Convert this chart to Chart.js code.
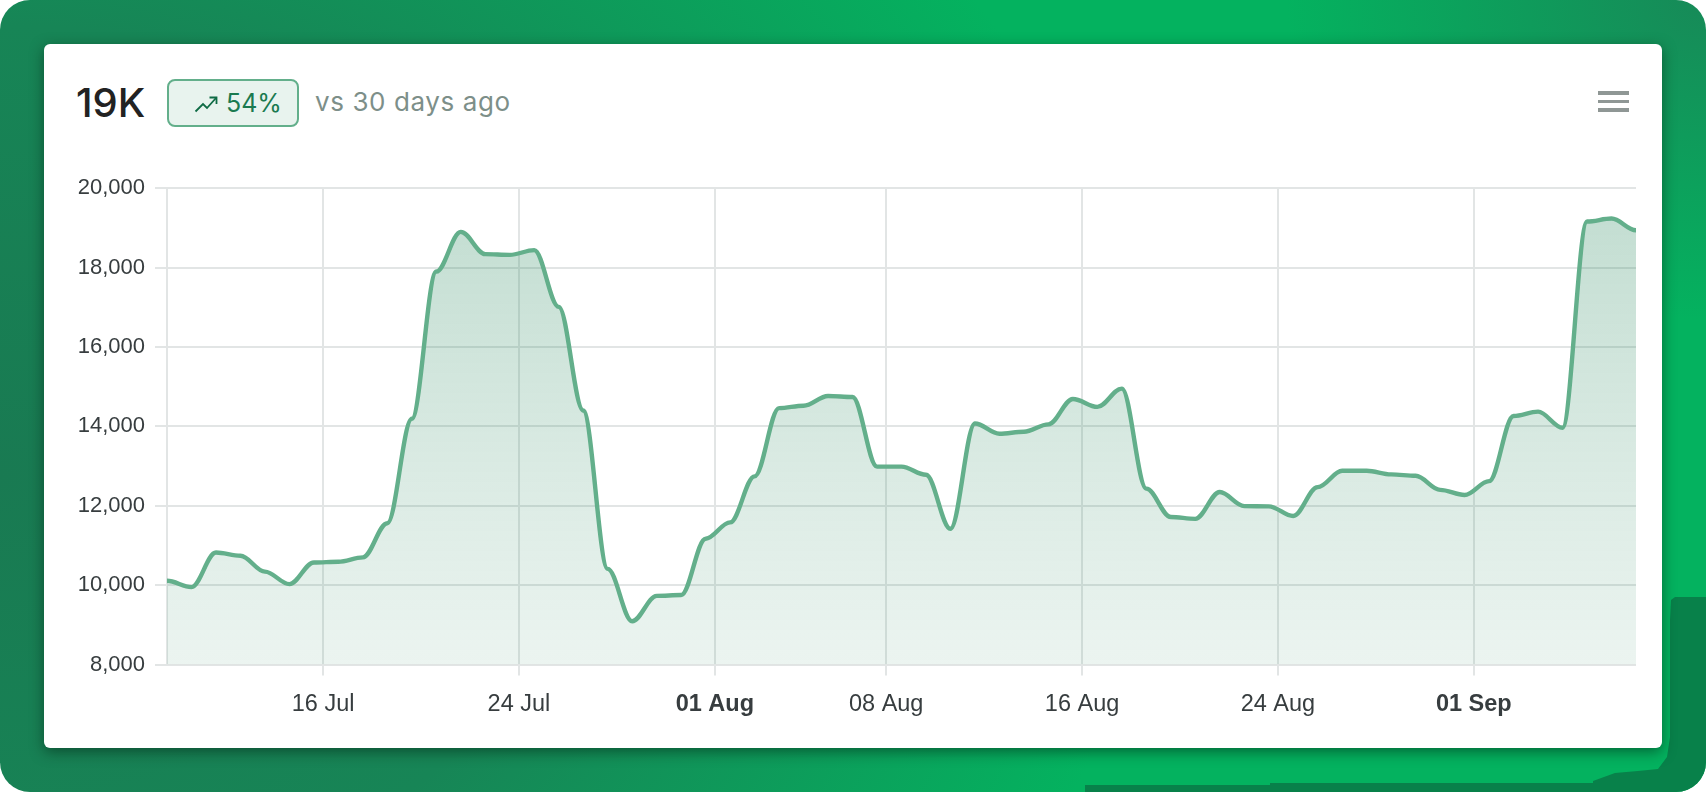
<!DOCTYPE html>
<html>
<head>
<meta charset="utf-8">
<script src="https://cdn.jsdelivr.net/npm/chart.js@4/dist/chart.umd.js"></script>
<style>
  html, body { margin: 0; width: 1706px; height: 792px; overflow: hidden; background: #fff; }
  .frame {
    position: absolute; left: 0; top: 0; width: 1706px; height: 792px;
    border-radius: 30px; overflow: hidden;
    background:
      radial-gradient(ellipse 1150px 900px at 0 60%, #197a52 0%, #178556 50%, rgba(23,133,86,0) 100%),
      radial-gradient(ellipse 420px 320px at 100% 0, #178a58 0%, rgba(23,138,88,0) 100%),
      #04b25f;
  }
  .patch {
    position: absolute; left: 0; top: 0; width: 1706px; height: 792px; background: #08814a;
    clip-path: polygon(1675px 597px, 1706px 597px, 1706px 792px, 1085px 792px, 1085px 785px,
      1270px 785px, 1270px 783px, 1593px 783px, 1593px 781px, 1615px 773px, 1638px 771px,
      1658px 769px, 1667px 757px, 1670px 737px, 1670px 620px, 1671px 600px);
  }
  .card {
    position: absolute; left: 44px; top: 44px; width: 1618px; height: 704px;
    background: #fff; border-radius: 6px; box-shadow: 0 4px 14px rgba(0, 30, 15, 0.5);
  }
  .big, .badge, .note { position: absolute; font-family: Inter, sans-serif; white-space: nowrap; }
  .big { left: 76px; top: 80px; font-size: 40px; line-height: 46px; font-weight: 500; color: #222; }
  .badge {
    left: 167px; top: 79px; width: 132px; height: 48px; box-sizing: border-box;
    border: 2px solid #63af8b; border-radius: 8px; background: #e8f3ee;
  }
  .badge svg { position: absolute; left: 25px; top: 14px; }
  .badge span { position: absolute; left: 57px; top: 7px; font-size: 25px; line-height: 30px; color: #1a7a50; }
  .note { left: 315px; top: 87px; font-size: 26px; line-height: 30px; letter-spacing: 0.6px; color: #7d8f89; }
  .menu { position: absolute; left: 1598px; top: 91px; width: 31px; }
  .menu i { display: block; height: 3.5px; margin-bottom: 5px; background: #8f9795; }
  canvas { position: absolute; left: 60px; top: 165px; }
</style>
</head>
<body>
<div class="frame"><div class="patch"></div></div>
<div class="card"></div>
<div class="big">19K</div>
<div class="badge">
  <svg width="24" height="18" viewBox="0 0 24 18" fill="none" stroke="#0f6b45" stroke-width="1.8">
    <path d="M1.5 16.5 L9 9 L13 13 L22 3"/><path d="M15.5 2.5 L22.5 2.5 L22.5 9"/>
  </svg>
  <span>54%</span>
</div>
<div class="note">vs 30 days ago</div>
<div class="menu"><i></i><i></i><i></i></div>
<canvas id="chartViews" width="1590" height="580"></canvas>

<script>
const firstDay = "2023-07-09T15:00:00Z";
const dayMs = 86400000;

// one reading per day
const views = [
  10110, 9950, 10820, 10740, 10340, 10025, 10570, 10590, 10700, 11560,
  14190, 17900, 18900, 18340, 18320, 18440, 17010, 14400, 10410, 9090,
  9730, 9750, 11170, 11580, 12740, 14460, 14520, 14765, 14740, 12985,
  12985, 12780, 11420, 14070, 13815, 13865, 14050, 14690, 14490, 14950,
  12430, 11715, 11670, 12345, 11990, 11985, 11740, 12470, 12880, 12880,
  12790, 12755, 12400, 12270, 12620, 14260, 14370, 13965, 19160, 19235,
  18940,
];

const tickDates = ["2023-07-16", "2023-07-24", "2023-08-01", "2023-08-08", "2023-08-16", "2023-08-24", "2023-09-01"];
const tickLabels = ["16 Jul", "24 Jul", "01 Aug", "08 Aug", "16 Aug", "24 Aug", "01 Sep"];
const boldLabels = ["01 Aug", "01 Sep"];

const startMs = Date.parse(firstDay);
const tickMs = tickDates.map((d) => Date.parse(d));
const points = views.map((v, i) => ({ x: startMs + i * dayMs, y: v }));

const gridColor = "#e2e5e5";
const labelColor = "#373d3f";

function fillGradient(context) {
  const area = context.chart.chartArea;
  if (!area) return "rgba(30, 130, 85, 0.15)";
  const g = context.chart.ctx.createLinearGradient(0, area.top + 12, 0, area.bottom);
  g.addColorStop(0, "rgba(30, 130, 85, 0.27)");
  g.addColorStop(1, "rgba(30, 130, 85, 0.085)");
  return g;
}

// flat tangent at every reading, gives the little shoulders on the steep parts
const flatSpline = {
  id: "flatSpline",
  afterDatasetsUpdate(chart) {
    const line = chart.getDatasetMeta(0).dataset;
    line.updateControlPoints(chart.chartArea, "x");
    const pts = line.points;
    pts.forEach((p, i) => {
      const prev = pts[i - 1] || p;
      const next = pts[i + 1] || p;
      p.cp1x = p.x - (p.x - prev.x) * 0.35;
      p.cp1y = p.y;
      p.cp2x = p.x + (next.x - p.x) * 0.35;
      p.cp2y = p.y;
    });
  },
};

new Chart(document.getElementById("chartViews"), {
  type: "line",
  data: {
    datasets: [
      {
        data: points,
        borderColor: "#63af8b",
        borderWidth: 4.4,
        backgroundColor: fillGradient,
        fill: "start",
        tension: 0.4,
        pointRadius: 0,
      },
    ],
  },
  plugins: [flatSpline],
  options: {
    responsive: false,
    animation: false,
    layout: { padding: { right: 14 } },
    plugins: { legend: { display: false }, tooltip: { enabled: false } },
    scales: {
      x: {
        type: "linear",
        min: startMs,
        max: points[points.length - 1].x,
        afterBuildTicks: (axis) => {
          axis.ticks = tickMs.map((value) => ({ value }));
        },
        afterFit: (axis) => {
          axis.height = 80.5;
        },
        grid: { color: gridColor, lineWidth: 2, tickLength: 11, tickColor: gridColor },
        border: { display: false },
        ticks: {
          autoSkip: false,
          maxRotation: 0,
          padding: 15,
          color: labelColor,
          callback: (value) => tickLabels[tickMs.indexOf(value)],
          font: (c) => ({
            family: "'Liberation Sans', sans-serif",
            size: 23.5,
            weight: boldLabels.includes(tickLabels[tickMs.indexOf(c.tick && c.tick.value)]) ? "bold" : "normal",
          }),
        },
      },
      y: {
        min: 8000,
        max: 20000,
        afterFit: (axis) => {
          axis.width = 107;
        },
        grid: { color: gridColor, lineWidth: 2, tickLength: 12, tickColor: gridColor },
        border: { color: gridColor, width: 2 },
        ticks: {
          stepSize: 2000,
          padding: 10,
          color: labelColor,
          callback: (value) => value.toLocaleString("en-US"),
          font: { family: "'Liberation Sans', sans-serif", size: 22 },
        },
      },
    },
  },
});
</script>
</body>
</html>
